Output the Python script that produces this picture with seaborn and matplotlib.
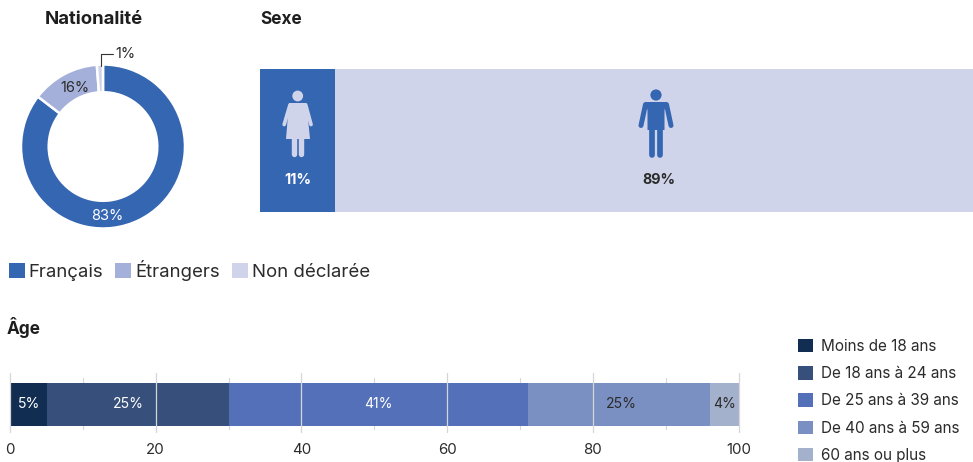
import matplotlib
matplotlib.use("Agg")
import matplotlib.pyplot as plt
from matplotlib.patches import Patch, Circle, Polygon
import seaborn as sns

sns.set_theme(style="white")
plt.rcParams["font.family"] = ["Inter", "DejaVu Sans"]

W, H = 973, 462
INK = "#2b2b2b"

nat_labels = ["Français", "Étrangers", "Non déclarée"]
nat_values = [85.4, 13.4, 1.2]
nat_texts = ["83%", "16%", "1%"]
nat_colors = ["#3566b2", "#a5b0da", "#d0d4ea"]

sex_labels = ["Femmes", "Hommes"]
sex_values = [10.5, 89.5]
sex_texts = ["11%", "89%"]
sex_colors = ["#3566b2", "#d0d4ea"]

age_labels = ["Moins de 18 ans", "De 18 ans à 24 ans", "De 25 ans à 39 ans",
              "De 40 ans à 59 ans", "60 ans ou plus"]
age_values = [5.1, 24.9, 41.1, 25.0, 3.9]
age_texts = ["5%", "25%", "41%", "25%", "4%"]
age_colors = ["#112d52", "#374f7b", "#5370b8", "#7a90c2", "#a4b1cc"]
age_text_colors = ["white", "white", "white", INK, INK]
age_text_shift = [0.1, -1.3, 0, 0.3, 0.1]
major_ticks = [0, 20, 40, 60, 80, 100]
minor_ticks = [10, 30, 50, 70, 90]

fig = plt.figure(figsize=(W / 100, H / 100), dpi=100)


def px_axes(l, t, r, b, **kw):
    return fig.add_axes([l / W, 1 - b / H, (r - l) / W, (b - t) / H], **kw)


def layered(ax, values, colors, zorder=2):
    total = sum(values)
    for i in range(len(values) - 1, -1, -1):
        sns.barplot(x=[total], y=["a"], color=colors[i], saturation=1, width=1,
                    ax=ax, zorder=zorder, linewidth=0)
        total -= values[i]
    ax.set_ylim(0.5, -0.5)
    ax.set_xlim(0, 100)
    ax.set_ylabel("")
    ax.set_xlabel("")
    ax.set_yticks([])


# Donut
ax_d = px_axes(21, 64.5, 185, 228.5)
ax_d.pie(nat_values, colors=nat_colors, startangle=90, counterclock=False,
         radius=1, wedgeprops=dict(width=0.338, edgecolor="white", linewidth=1.8))
ax_d.set_xlim(-1, 1)
ax_d.set_ylim(-1, 1)

# Sex bar
ax_s = px_axes(260, 69, 973, 212)
layered(ax_s, sex_values, sex_colors)
ax_s.axis("off")

# Age bar
ax_a = px_axes(10, 383, 738.5, 426)
layered(ax_a, age_values, age_colors)
for s in ax_a.spines.values():
    s.set_visible(False)
ax_a.set_xticks(major_ticks)
ax_a.tick_params(axis="x", length=0, pad=12.5, labelsize=10.8, labelcolor=INK)
for x in minor_ticks:
    ax_a.axvline(x, ymin=-0.07, ymax=1.116, color="#d6d6d6", lw=0.8, clip_on=False, zorder=1)
for x in major_ticks:
    ax_a.axvline(x, ymin=-0.14, ymax=1.23, color="#d6d6d6", lw=0.9, clip_on=False, zorder=3)
cum = 0
for v, t, c, dx in zip(age_values, age_texts, age_text_colors, age_text_shift):
    ax_a.text(cum + v / 2 + dx, 0, t, ha="center", va="center", color=c, fontsize=10.1, zorder=4)
    cum += v

# Overlay in pixel coordinates: titles, labels, icons
ov = px_axes(0, 0, W, H)
ov.set_xlim(0, W)
ov.set_ylim(H, 0)
ov.axis("off")
ov.patch.set_alpha(0)

for x, y, t, fs in [(45, 20, "Nationalité", 13.4), (260, 20, "Sexe", 12.4), (7, 327, "Âge", 12.4)]:
    ov.text(x, y, t, fontsize=fs, fontweight="bold", color="#1e1e1e", ha="left", va="center")

ov.text(107.5, 216.5, nat_texts[0], color="white", fontsize=10.5, ha="center", va="center")
ov.text(74.5, 87.5, nat_texts[1], color=INK, fontsize=10.5, ha="center", va="center")
ov.text(115, 53.5, nat_texts[2], color=INK, fontsize=10.5, ha="left", va="center")
ov.plot([100.8, 100.8, 113], [66, 54, 54], color="#333333", lw=0.8)

ov.text(297.5, 180, sex_texts[0], color="white", fontsize=10.3, fontweight="bold", ha="center", va="center")
ov.text(659, 180, sex_texts[1], color=INK, fontsize=10.3, fontweight="bold", ha="center", va="center")


def stroke(xs, ys, color, lw):
    ov.plot(xs, ys, color=color, lw=lw, solid_capstyle="round", solid_joinstyle="round")


# Woman icon
wc = sex_colors[1]
ov.add_patch(Circle((297.7, 96), 5.4, color=wc, lw=0))
ov.add_patch(Polygon([(289, 103), (306.5, 103), (310, 139), (286, 139)], color=wc, lw=0))
stroke([290, 284.2], [105, 124.5], wc, 2.7)
stroke([305.7, 311], [105, 124.5], wc, 2.7)
stroke([294.4, 294.4], [136, 154.3], wc, 3.9)
stroke([301.2, 301.2], [136, 154.3], wc, 3.9)

# Man icon
mc = sex_colors[0]
ov.add_patch(Circle((656, 95), 5.6, color=mc, lw=0))
ov.add_patch(Polygon([(645, 102), (667, 102), (664.5, 110), (664.5, 130), (647.5, 130), (647.5, 110)],
                     color=mc, lw=0))
stroke([645.5, 641], [104.5, 125.5], mc, 3.6)
stroke([666.5, 671], [104.5, 125.5], mc, 3.6)
stroke([651.8, 651.8], [125, 154.8], mc, 4.1)
stroke([660.3, 660.3], [125, 154.8], mc, 4.1)

# Legends
h1 = [Patch(color=c, lw=0) for c in nat_colors]
fig.legend(h1, nat_labels, loc="upper left", bbox_to_anchor=(9 / W, 1 - 260 / H), ncol=3,
           frameon=False, fontsize=13.4, labelcolor=INK, handlelength=0.86, handleheight=0.86,
           handletextpad=0.2, columnspacing=0.65, borderpad=0, borderaxespad=0)
h2 = [Patch(color=c, lw=0) for c in age_colors]
fig.legend(h2, age_labels, loc="upper left", bbox_to_anchor=(798 / W, 1 - 339 / H), ncol=1,
           frameon=False, fontsize=11, labelcolor=INK, handlelength=0.98, handleheight=0.98,
           handletextpad=0.55, labelspacing=0.8, borderpad=0, borderaxespad=0)

fig.savefig("out.png", dpi=100)
